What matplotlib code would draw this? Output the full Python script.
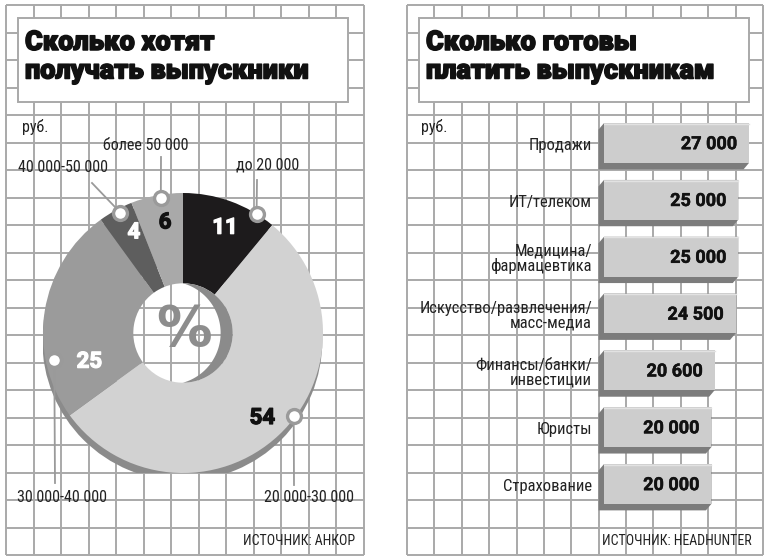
import matplotlib
matplotlib.use("Agg")
import matplotlib.pyplot as plt
import matplotlib.patheffects as pe
import numpy as np
from matplotlib.patches import Rectangle, Polygon, Wedge

# ---------------- data ----------------
pie_title = ["Сколько хотят", "получать выпускники"]
pie_labels = ["до 20 000", "20 000-30 000", "30 000-40 000", "40 000-50 000", "более 50 000"]
pie_values = [11, 54, 25, 4, 6]
bar_title = ["Сколько готовы", "платить выпускникам"]
bar_categories = ["Продажи", "ИТ/телеком", "Медицина/\nфармацевтика",
                  "Искусство/развлечения/\nмасс-медиа", "Финансы/банки/\nинвестиции",
                  "Юристы", "Страхование"]
bar_values = [27000, 25000, 25000, 24500, 20600, 20000, 20000]
unit_text = "руб."
src_left = "ИСТОЧНИК: АНКОР"
src_right = "ИСТОЧНИК: HEADHUNTER"

# ---------------- style ----------------
W, H = 768, 560
GRID = "#a9a9a9"
NARROW = ["Liberation Sans Narrow", "Roboto Condensed", "DejaVu Sans"]
HEAVY = ["Roboto", "DejaVu Sans"]
BOLDNUM = ["Roboto", "DejaVu Sans"]
pie_colors = ["#1d1b1c", "#d2d2d2", "#9b9b9b", "#5e5e5e", "#a9a9a9"]
pie_text_colors = ["white", "#111111", "white", "white", "#111111"]

def heavy(color, lw):
    return [pe.withStroke(linewidth=lw, foreground=color)]

fig = plt.figure(figsize=(W / 100, H / 100), dpi=100)
fig.patch.set_facecolor("white")
bg = fig.add_axes([0, 0, 1, 1])
bg.set_xlim(0, W)
bg.set_ylim(H, 0)
bg.axis("off")

def grid_panel(x0, x1, y0, y1, nx, ny):
    for x in np.linspace(x0, x1, nx + 1):
        bg.plot([x, x], [y0, y1], color=GRID, lw=1.4, solid_capstyle="butt", zorder=1)
    for y in np.linspace(y0, y1, ny + 1):
        bg.plot([x0, x1], [y, y], color=GRID, lw=1.4, solid_capstyle="butt", zorder=1)

grid_panel(6, 363.5, 5, 555, 13, 20)
grid_panel(407, 763, 5, 555, 13, 20)

def title_box(x, y, w, h, lines, tx):
    bg.add_patch(Rectangle((x, y), w, h, fc="white", ec=GRID, lw=1.4, zorder=2))
    for i, ln in enumerate(lines):
        bg.text(tx, 50 + i * 28.5, ln, family=HEAVY, weight="black", fontsize=19.5,
                color="#111111", va="baseline", ha="left", zorder=3,
                path_effects=heavy("#111111", 1.1))

title_box(18, 18, 330, 84, pie_title, 25)
title_box(419, 18, 330, 84, bar_title, 426)

bg.text(22, 132, unit_text, family=NARROW, fontsize=11.5, color="#222222", va="baseline")
bg.text(421, 132, unit_text, family=NARROW, fontsize=11.5, color="#222222", va="baseline")
bg.text(355, 545, src_left, family=NARROW, fontsize=10, color="#222222", ha="right", va="baseline")
bg.text(752, 545, src_right, family=NARROW, fontsize=10, color="#222222", ha="right", va="baseline")

# ---------------- donut ----------------
CX, CY, R = 183, 333, 140
pax = fig.add_axes([(CX - R) / W, 1 - (CY + R) / H, 2 * R / W, 2 * R / H])
pax.patch.set_alpha(0)

def P(px, py):
    return ((px - CX) / R, (CY - py) / R)

def polar(theta_deg, r):
    t = np.radians(theta_deg)
    return (r * np.sin(t), r * np.cos(t))

# outer shadow ring (shifted down)
pax.add_patch(Wedge((-0.005, -0.055), 1.0, 0, 360, width=0.45, fc="#8b8b8b", ec="none", zorder=1))
wedges, _ = pax.pie(pie_values, colors=pie_colors, startangle=90, counterclock=False,
                    radius=1.0, wedgeprops=dict(width=0.645, edgecolor="none"))
for w_ in wedges:
    w_.set_zorder(2)
pax.set_xlim(-1, 1)
pax.set_ylim(-1, 1)
pax.set_aspect("auto")
pax.axis("off")

# inner crescent shadow in the hole
rh, s = 0.355, 0.10
r2 = np.sqrt(rh ** 2 + s ** 2)
psi = np.degrees(np.arctan2(rh, s))
phi = np.radians(np.linspace(-90, 90, 60))
outer = np.c_[rh * np.cos(phi), rh * np.sin(phi)]
ps = np.radians(np.linspace(psi, -psi, 60))
inner = np.c_[-s + r2 * np.cos(ps), r2 * np.sin(ps)]
pax.add_patch(Polygon(np.r_[outer, inner], closed=True, fc="#8b8b8b", ec="none", zorder=2))

pax.text(0.01, 0.02, "%", fontsize=40, weight="bold", color="#8d8d8d",
         ha="center", va="center", zorder=3, family="DejaVu Sans")

# value labels inside the slices
val_angle = [21.8, 137, 253, 334, 350.8]
val_rad = [0.81, 0.83, 0.70, 0.80, 0.80]
for v, a, r, c in zip(pie_values, val_angle, val_rad, pie_text_colors):
    x, y = polar(a, r)
    pax.text(x, y, str(v), fontsize=16, weight="bold", color=c, ha="center", va="center",
             family=BOLDNUM, zorder=4, path_effects=heavy(c, 0.9))

# callouts: circle on the slice, leader line, label
dot_angle = [31.7, 127, 258, 332.5, 350.7]
dot_rad = [1.0, 0.99, 0.94, 0.97, 0.98]
line_end = [(257, 180), (294, 485), (55, 483), (92, 183), (161, 157)]
label_pos = [(268, 165), (309, 497), (62, 497), (63, 168), (146, 145)]
for lab, a, r, le, lp in zip(pie_labels, dot_angle, dot_rad, line_end, label_pos):
    x, y = polar(a, r)
    ex, ey = P(*le)
    pax.plot([x, ex], [y, ey], color="#9a9a9a", lw=1.3, zorder=5, clip_on=False)
    pax.plot([x], [y], marker="o", ms=10, mfc="white", mec="#9a9a9a", mew=2.4,
             zorder=6, clip_on=False)
    lx, ly = P(*lp)
    pax.text(lx, ly, lab, family=NARROW, fontsize=11.5, color="#222222",
             ha="center", va="center", zorder=6, clip_on=False)

# ---------------- bars ----------------
BX0, BX1 = 604, 760
BY0, BY1 = 114.6, 512.4
scale = 145 / 27000.0  # px per rouble
bax = fig.add_axes([BX0 / W, 1 - BY1 / H, (BX1 - BX0) / W, (BY1 - BY0) / H])
n = len(bar_values)
bax.set_xlim(0, (BX1 - BX0) / scale)
bax.set_ylim(n - 0.5, -0.5)
bax.axis("off")
bax.patch.set_alpha(0)

row_px = (BY1 - BY0) / n
bh = 0.70
dx = 5.5 / scale
dy = 6.5 / row_px
ypos = np.arange(n)
bars = bax.barh(ypos, bar_values, height=bh, color="#cdcdcd", edgecolor="none", zorder=3)
for i, (v, b) in enumerate(zip(bar_values, bars)):
    top, bot = i - bh / 2, i + bh / 2
    hull = [(0, top), (v, top), (v, bot), (v - dx, bot + dy), (-dx, bot + dy), (-dx, top + dy)]
    bax.add_patch(Polygon(hull, closed=True, fc="#7c7c7c", ec="none", zorder=2, clip_on=False))
    bax.plot([0, v], [top + 0.01, top + 0.01], color="#e2e2e2", lw=1, zorder=4)
    lab = f"{v:,}".replace(",", " ")
    bax.text(v - 12 / scale, i + 0.02, lab, fontsize=13, weight="bold", color="#111111",
             ha="right", va="center", family=BOLDNUM, zorder=5,
             path_effects=heavy("#111111", 0.35))
    bax.text(-12 / scale, i + 0.04, bar_categories[i], family=NARROW, fontsize=12,
             color="#222222", ha="right", va="center", linespacing=1.0, clip_on=False)

fig.savefig("out.png", dpi=100, facecolor="white")
